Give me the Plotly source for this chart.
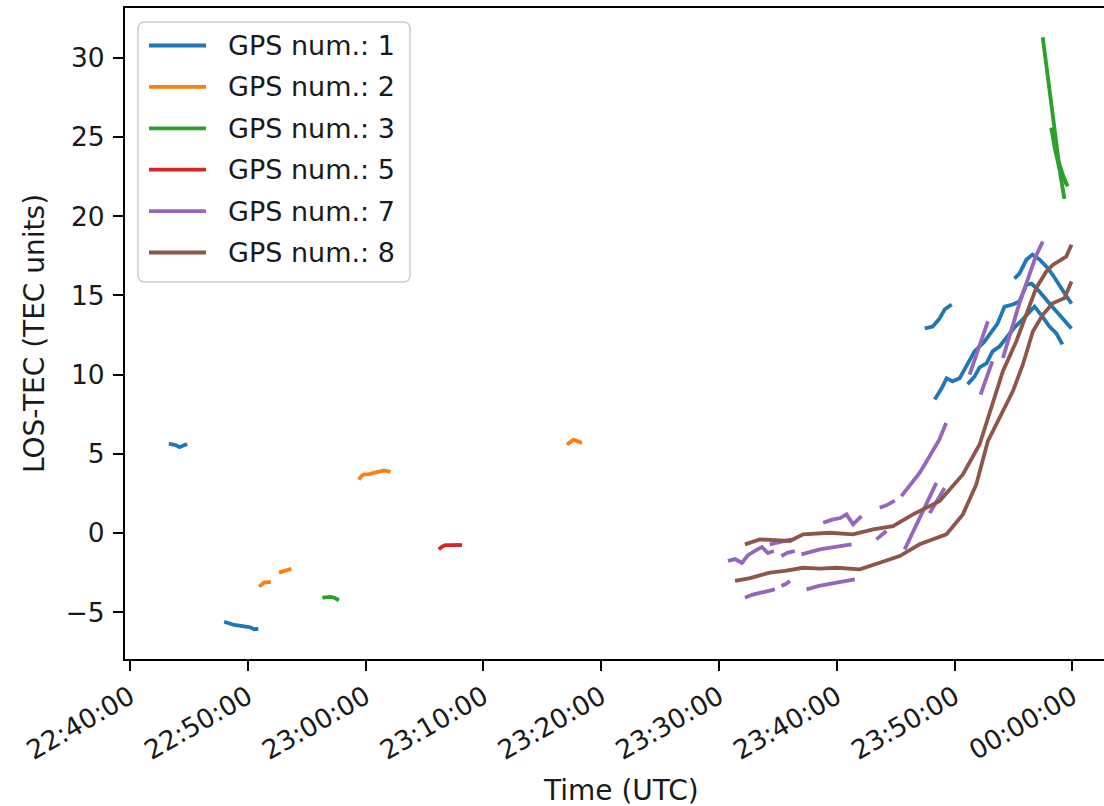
import plotly.graph_objects as go
import pandas as pd

BASE = pd.Timestamp("2024-01-01 22:40:00")  # times below are minutes after 22:40:00 UTC

# ---- GPS 1 ----
GPS1_T = [
    [3.3, 3.6, 3.9, 4.2, 4.5, 4.85],
    [8.0, 8.4, 8.85, 9.3, 9.85, 10.2, 10.55, 10.9],
    [67.46, 68.14, 68.73, 69.15, 69.75],
    [68.31, 68.9, 69.32, 69.83, 70.42, 71.0, 71.69, 72.54, 73.14, 73.64, 74.24, 74.92, 75.5, 76.1, 76.53, 77.2, 78.05, 78.9, 79.4, 79.92],
    [71.1, 71.7, 72.12, 72.7, 73.22, 73.81, 74.41, 75.08, 75.76, 76.36, 76.78, 77.46, 78.05, 78.64, 79.15],
    [75.08, 75.5, 76.1, 76.61, 77.2, 77.8, 78.31, 78.9, 79.4, 79.92],
]
GPS1_V = [
    [5.65, 5.6, 5.55, 5.42, 5.5, 5.62],
    [-5.6, -5.7, -5.8, -5.85, -5.92, -5.95, -6.07, -6.05],
    [12.92, 13.04, 13.55, 14.11, 14.43],
    [8.44, 9.14, 9.77, 9.58, 9.77, 10.52, 11.47, 12.1, 12.73, 13.23, 14.3, 14.43, 14.62, 15.69, 15.75, 15.25, 14.49, 13.8, 13.36, 12.92],
    [9.39, 9.89, 10.46, 10.71, 11.47, 11.78, 12.35, 12.98, 13.48, 13.99, 14.3, 13.67, 13.04, 12.6, 11.91],
    [16.07, 16.38, 17.27, 17.58, 17.27, 16.82, 16.32, 15.69, 15.06, 14.49],
]

# ---- GPS 2 ----
GPS2_T = [
    [10.96, 11.2, 11.38, 11.7, 11.95],
    [12.65, 12.9, 13.08, 13.4, 13.7],
    [19.43, 19.65, 19.86, 20.3, 20.7, 21.1, 21.55, 21.85, 22.12],
    [37.09, 37.4, 37.66, 38.0, 38.36],
]
GPS2_V = [
    [-3.38, -3.2, -3.13, -3.1, -3.09],
    [-2.5, -2.45, -2.39, -2.3, -2.25],
    [3.38, 3.6, 3.7, 3.72, 3.8, 3.85, 3.95, 3.92, 3.86],
    [5.59, 5.75, 5.9, 5.8, 5.69],
]

# ---- GPS 3 ----
GPS3_T = [
    [16.33, 16.7, 17.03, 17.4, 17.74],
    [77.48, 77.9, 78.3, 78.7, 79.0, 79.32],
    [78.2, 78.5, 78.9, 79.3, 79.6],
    [78.35, 78.8, 79.2, 79.5],
]
GPS3_V = [
    [-4.08, -4.05, -4.03, -4.1, -4.24],
    [31.3, 28.8, 26.4, 24.2, 22.5, 21.1],
    [25.6, 24.3, 23.0, 22.4, 21.9],
    [25.2, 23.5, 22.6, 22.0],
]

# ---- GPS 5 ----
GPS5_T = [[26.21, 26.5, 26.78, 27.1, 27.48, 27.8, 28.19]]
GPS5_V = [[-1.03, -0.85, -0.76, -0.78, -0.76, -0.74, -0.76]]

# ---- GPS 7 ----
GPS7_T = [
    [50.76, 51.36, 51.95, 52.46, 53.05, 53.64, 54.15, 54.66],
    [54.3, 55.2, 56.16],
    [55.3, 55.8, 56.44],
    [57.0, 57.8, 58.56, 59.2, 59.83, 60.5, 61.25],
    [58.84, 59.6, 60.3, 60.82, 61.38, 61.7, 62.09],
    [63.64, 64.2, 64.92],
    [65.48, 66.2, 67.03, 67.6, 68.16, 68.7, 69.28],
    [63.36, 63.8, 64.21],
    [52.2, 52.8, 53.47, 54.1, 54.75],
    [55.3, 55.7, 56.02],
    [57.43, 58.4, 59.41, 60.5, 61.53],
    [65.76, 66.4, 67.1, 67.8, 68.45],
    [67.88, 68.5, 69.15],
    [71.27, 71.8, 72.3, 72.82],
    [72.2, 72.7, 73.2],
    [74.1, 74.8, 75.5, 76.2, 76.9, 77.48],
]
GPS7_V = [
    [-1.76, -1.64, -1.89, -1.39, -1.13, -0.88, -1.26, -1.13],
    [-0.71, -0.55, -0.4],
    [-1.45, -1.25, -1.13],
    [-1.34, -1.15, -1.03, -0.95, -0.88, -0.8, -0.71],
    [0.65, 0.85, 0.95, 1.18, 0.55, 0.8, 1.07],
    [1.6, 1.75, 2.05],
    [2.33, 3.0, 3.8, 4.5, 5.17, 5.9, 6.95],
    [-0.4, -0.1, 0.13],
    [-4.08, -3.9, -3.78, -3.65, -3.55],
    [-3.34, -3.2, -3.02],
    [-3.55, -3.35, -3.21, -3.05, -2.92],
    [-1.03, 0.0, 1.1, 2.2, 3.17],
    [1.26, 2.0, 2.85],
    [10.0, 11.2, 12.3, 13.36],
    [8.74, 9.8, 10.84],
    [11.05, 12.8, 14.5, 16.0, 17.5, 18.4],
]

# ---- GPS 8 ----
GPS8_T = [
    [52.2, 53.47, 54.75, 56.02, 57.14, 59.41, 61.38, 63.08, 64.77, 66.47, 68.73, 70.7, 72.12, 73.11, 74.09, 75.23, 76.08, 76.92, 77.77, 78.33, 79.47, 79.92],
    [51.36, 52.63, 54.32, 55.59, 57.14, 58.56, 59.97, 61.95, 63.64, 65.34, 67.03, 69.3, 70.7, 71.84, 72.82, 74.24, 74.94, 75.79, 76.64, 77.48, 78.33, 79.32, 79.92],
]
GPS8_V = [
    [-0.71, -0.4, -0.45, -0.5, -0.08, 0.02, -0.08, 0.23, 0.44, 1.18, 2.02, 3.7, 5.59, 7.9, 10.2, 12.1, 13.78, 15.46, 16.5, 16.93, 17.45, 18.2],
    [-3.02, -2.84, -2.5, -2.39, -2.19, -2.24, -2.19, -2.29, -1.87, -1.45, -0.71, -0.08, 1.18, 3.07, 5.8, 7.9, 8.95, 10.63, 12.73, 13.78, 14.51, 14.83, 15.88],
]

LABELS = ["GPS num.: 1", "GPS num.: 2", "GPS num.: 3", "GPS num.: 5", "GPS num.: 7", "GPS num.: 8"]
COLORS = ["#1f77b4", "#ff7f0e", "#2ca02c", "#d62728", "#9467bd", "#8c564b"]
TIMES = [GPS1_T, GPS2_T, GPS3_T, GPS5_T, GPS7_T, GPS8_T]
VALUES = [GPS1_V, GPS2_V, GPS3_V, GPS5_V, GPS7_V, GPS8_V]
X_TITLE = "Time (UTC)"
Y_TITLE = "LOS-TEC (TEC units)"


def to_time(m):
    return (BASE + pd.Timedelta(minutes=m)).strftime("%Y-%m-%d %H:%M:%S.%f")


def build(ts, vs):
    x, y = [], []
    for t, v in zip(ts, vs):
        x += [to_time(m) for m in t] + [None]
        y += list(v) + [None]
    return x, y


# ---- page / plot-area geometry (pixels) ----
WIDTH, HEIGHT = 1104, 806
ML, MR, MT, MB = 125, 0, 8, 147
PW, PH = WIDTH - ML - MR, HEIGHT - MT - MB
FONT = "DejaVu Sans, Liberation Sans, sans-serif"
TEXT_COLOR = "#1a1a1a"
LINE_W = 3.8
TITLE_SIZE = 28


def px(xp):
    return (xp - ML) / PW


def py(yp):
    return (HEIGHT - MB - yp) / PH


fig = go.Figure()
for name, color, ts, vs in zip(LABELS, COLORS, TIMES, VALUES):
    x, y = build(ts, vs)
    fig.add_trace(go.Scatter(x=x, y=y, mode="lines", name=name,
                             line=dict(color=color, width=LINE_W),
                             connectgaps=False, showlegend=False))

# ---- legend drawn in matplotlib style (frame, 55px handles) ----
LG_L, LG_R, LG_T, LG_B, LG_RAD = 138, 410, 22, 282, 7
LG_ROW0, LG_ROWSTEP = 45.5, 41.4
HANDLE_X0, HANDLE_X1, TEXT_X = 149, 206, 226

x0, x1, y0, y1 = px(LG_L), px(LG_R), py(LG_B), py(LG_T)
rx, ry = LG_RAD / PW, LG_RAD / PH
path = (f"M {x0 + rx},{y1} L {x1 - rx},{y1} Q {x1},{y1} {x1},{y1 - ry} "
        f"L {x1},{y0 + ry} Q {x1},{y0} {x1 - rx},{y0} L {x0 + rx},{y0} "
        f"Q {x0},{y0} {x0},{y0 + ry} L {x0},{y1 - ry} Q {x0},{y1} {x0 + rx},{y1} Z")
shapes = [dict(type="path", path=path, xref="paper", yref="paper",
               fillcolor="rgba(255,255,255,0.8)", line=dict(color="#cccccc", width=1.5),
               layer="above")]
annotations = []
for i, (name, color) in enumerate(zip(LABELS, COLORS)):
    yc = py(LG_ROW0 + i * LG_ROWSTEP)
    shapes.append(dict(type="line", xref="paper", yref="paper",
                       x0=px(HANDLE_X0), x1=px(HANDLE_X1), y0=yc, y1=yc,
                       line=dict(color=color, width=LINE_W), layer="above"))
    annotations.append(dict(text=name, xref="paper", yref="paper", x=px(TEXT_X), y=yc,
                            xanchor="left", yanchor="middle", showarrow=False,
                            font=dict(family=FONT, size=27, color=TEXT_COLOR)))

# x-axis title: centred on the full (right-cropped) axes width, as in the source figure
annotations.append(dict(text=X_TITLE, xref="paper", yref="paper", x=px(621), y=py(790),
                        xanchor="center", yanchor="middle", showarrow=False,
                        font=dict(family=FONT, size=TITLE_SIZE, color=TEXT_COLOR)))

fig.update_layout(
    width=WIDTH, height=HEIGHT,
    margin=dict(l=ML, r=MR, t=MT, b=MB),
    paper_bgcolor="white", plot_bgcolor="white",
    font=dict(family=FONT, size=26.5, color=TEXT_COLOR),
    showlegend=False,
    shapes=shapes, annotations=annotations,
)
fig.update_xaxes(
    type="date",
    range=[to_time(-0.42), to_time(82.68)],
    tickformat="%H:%M:%S", dtick=600000, tick0=to_time(0), tickangle=-30,
    ticks="outside", ticklen=10, tickwidth=2, tickcolor="black",
    showline=True, linewidth=2, linecolor="black", mirror=True,
    showgrid=False, zeroline=False, automargin=False,
)
fig.update_yaxes(
    range=[-7.95, 33.15], dtick=5, tick0=0,
    ticks="outside", ticklen=10, tickwidth=2, tickcolor="black",
    showline=True, linewidth=2, linecolor="black", mirror=False,
    showgrid=False, zeroline=False, automargin=False, ticklabelstandoff=3,
    title=dict(text=Y_TITLE, standoff=13,
               font=dict(family=FONT, size=TITLE_SIZE, color=TEXT_COLOR)),
)

fig.write_html("out.html", config={"displayModeBar": False},
               post_script="document.body.style.margin='0';")
